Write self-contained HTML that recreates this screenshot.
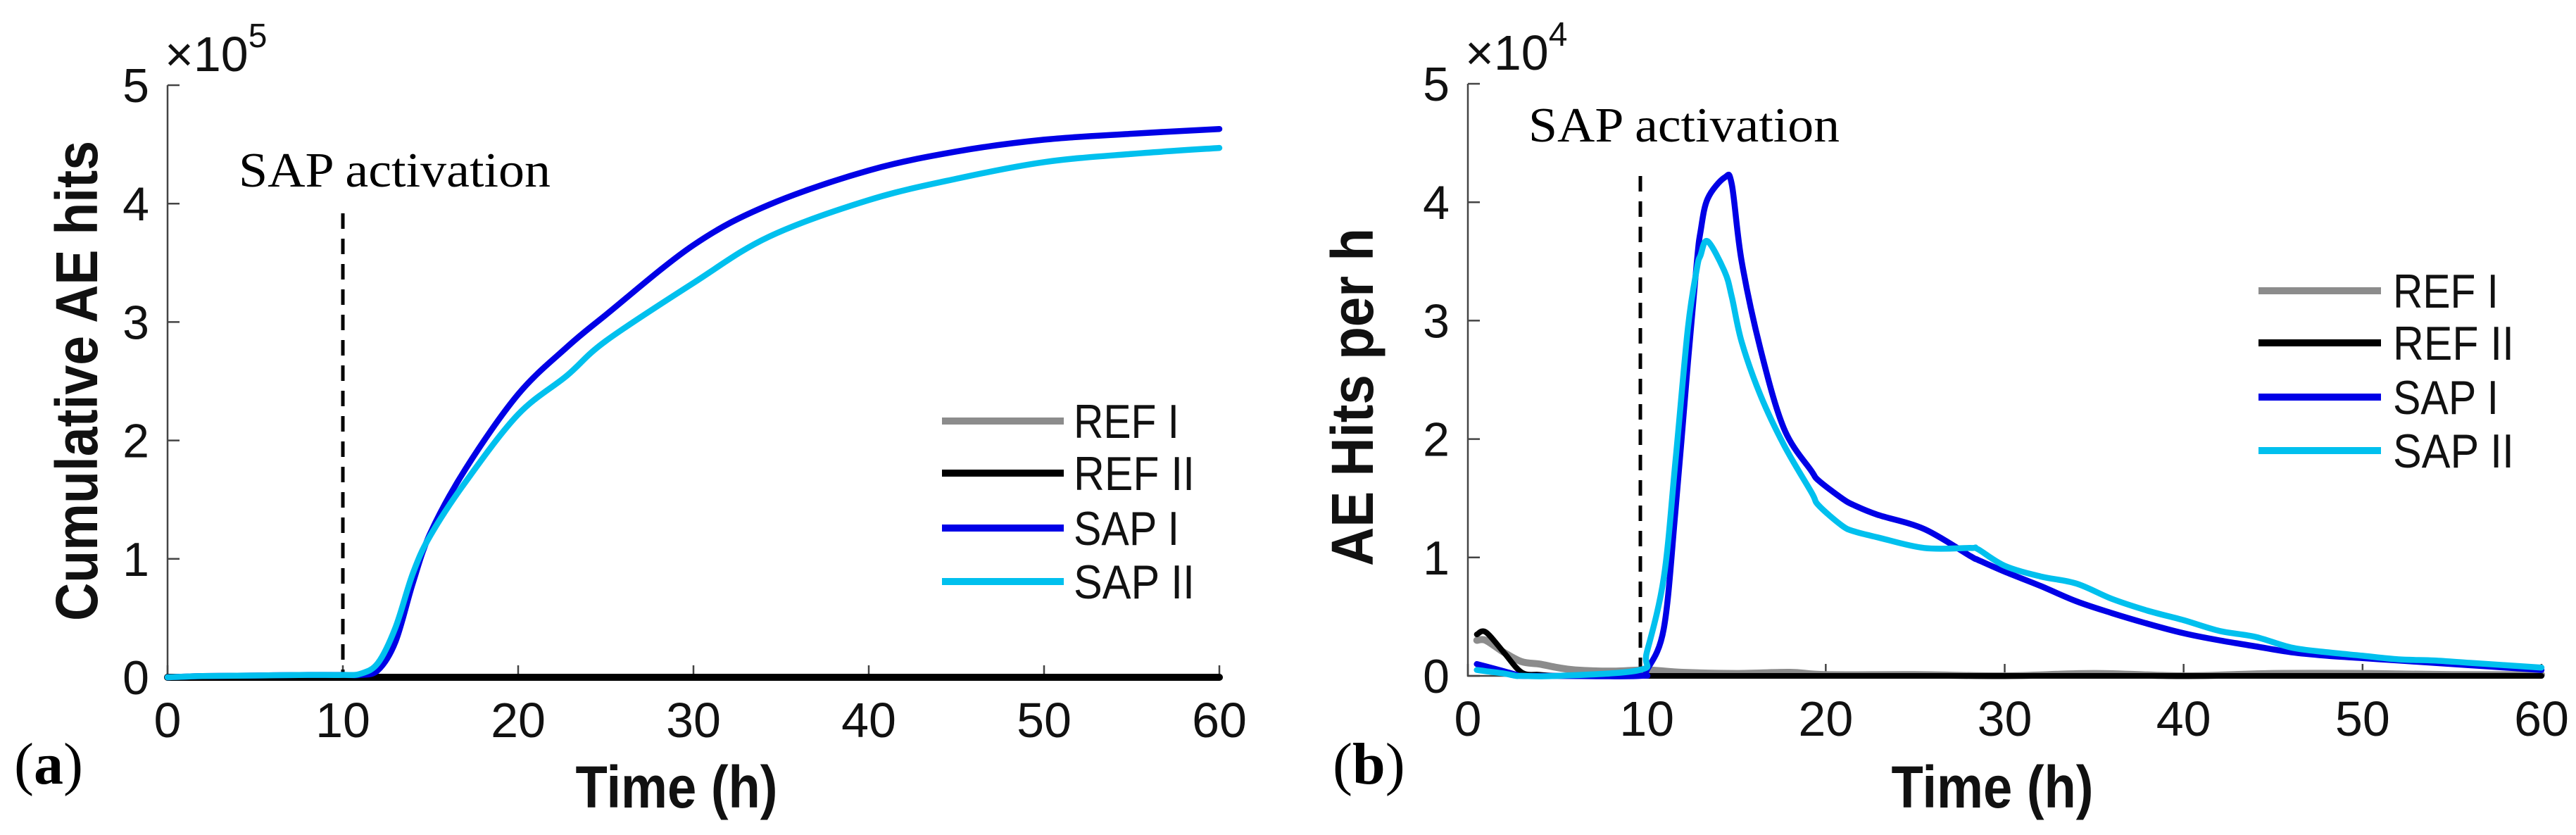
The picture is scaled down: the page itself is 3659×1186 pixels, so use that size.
<!DOCTYPE html>
<html><head><meta charset="utf-8"><style>
html,body{margin:0;padding:0;background:#fff}
svg{display:block}
text{font-family:"Liberation Sans",sans-serif}
.serif{font-family:"Liberation Serif",serif}
</style></head><body>
<svg id="fig" width="3659" height="1186" viewBox="0 0 3659 1186" xmlns="http://www.w3.org/2000/svg"></svg>
<script>
// ---- Panel (a): cumulative AE hits (x1e5) ----
const cumHours = [0,2,5,8,10,11,12,13,14,15,17,20,22.8,25,30,34.3,40,45,50,55,60];
const cumSapI  = [0,0.01,0.015,0.02,0.02,0.02,0.06,0.3,0.8,1.22,1.76,2.39,2.79,3.06,3.65,3.99,4.28,4.44,4.54,4.59,4.63];
const cumSapII = [0,0.01,0.015,0.02,0.02,0.03,0.12,0.42,0.88,1.2,1.65,2.22,2.55,2.84,3.33,3.72,4.03,4.21,4.35,4.42,4.47];
const cumRefHours = [0,60];
const cumRefI  = [0,0];
const cumRefII = [0,0];
// ---- Panel (b): AE hits per h (x1e4) ----
const rateHours = [0.5,1,2,2.7,3,5,9.6,10,10.95,11.6,12.3,12.8,13.0,13.4,14.36,14.75,15.3,16.35,17.66,19.2,19.6,20.9,21.6,22.9,25.5,28.1,28.5,30,32,34,36,38,40,42,44,46,48,50,52,54,56,58,60];
const rateSapI  = [0.1,0.08,0.04,0.01,0,0,0,0.05,0.4,1.39,2.65,3.5,3.75,4.03,4.21,4.15,3.5,2.76,2.09,1.73,1.65,1.5,1.44,1.36,1.24,1.01,0.98,0.88,0.76,0.63,0.53,0.44,0.36,0.30,0.25,0.2,0.17,0.15,0.13,0.11,0.09,0.07,0.05];
const rateSapII = [0.05,0.04,0.02,0,0,0,0.05,0.2,0.83,1.81,2.94,3.44,3.55,3.67,3.41,3.2,2.82,2.37,1.95,1.55,1.44,1.27,1.22,1.17,1.08,1.08,1.07,0.93,0.84,0.78,0.65,0.55,0.47,0.38,0.33,0.24,0.2,0.17,0.14,0.13,0.11,0.09,0.07];
const refHours = [0.5,1,2,3,4,5,6,8,10,12,15,18,20,25,30,35,40,45,50,55,60];
const rateRefI  = [0.3,0.3,0.2,0.12,0.1,0.07,0.05,0.04,0.05,0.03,0.02,0.03,0.01,0.01,0.0,0.02,0.0,0.02,0.02,0.01,0.01];
const rateRefII = [0.35,0.37,0.2,0.03,0.01,0,0,0,0,0,0,0,0,0,0,0,0,0,0,0,0];
const xTicks = [0,10,20,30,40,50,60];
const yTicks = [0,1,2,3,4,5];
const legendLabels = ["REF I","REF II","SAP I","SAP II"];
const NS = "http://www.w3.org/2000/svg";
const svg = document.getElementById('fig');
function el(tag, attrs, parent, txt){
  const e = document.createElementNS(NS, tag);
  for (const k in attrs) e.setAttribute(k, attrs[k]);
  if (txt !== undefined) e.textContent = txt;
  (parent||svg).appendChild(e);
  return e;
}
function smooth(pts){
  if (pts.length < 3) return pts.map((p,i)=>(i?'L':'M')+p[0].toFixed(1)+','+p[1].toFixed(1)).join('');
  let d = 'M'+pts[0][0].toFixed(1)+','+pts[0][1].toFixed(1);
  for (let i=0;i<pts.length-1;i++){
    const p0=pts[i-1]||pts[i], p1=pts[i], p2=pts[i+1], p3=pts[i+2]||p2;
    const t=0.5/3;
    const c1=[p1[0]+(p2[0]-p0[0])*t, p1[1]+(p2[1]-p0[1])*t];
    const c2=[p2[0]-(p3[0]-p1[0])*t, p2[1]-(p3[1]-p1[1])*t];
    d+=`C${c1[0].toFixed(1)},${c1[1].toFixed(1)} ${c2[0].toFixed(1)},${c2[1].toFixed(1)} ${p2[0].toFixed(1)},${p2[1].toFixed(1)}`;
  }
  return d;
}
const colors = {refI:"#8c8c8c", refII:"#000000", sapI:"#0000e6", sapII:"#00c0ee"};
function panel(cfg){
  const g = el('g', {}, svg);
  
  
  const X = h => cfg.x0 + (h/60)*(cfg.x1-cfg.x0);
  const Y = v => cfg.y0 - (v/5)*(cfg.y0-cfg.y5);
  const ax = el('path', {d:`M${cfg.x0},${cfg.y5}V${cfg.y0}H${cfg.x1}`, fill:'none', stroke:'#444', 'stroke-width':2.5}, g);
  
  
  yTicks.forEach(t => {
    el('line', {x1:cfg.x0, x2:cfg.x0+17, y1:Y(t), y2:Y(t), stroke:'#444', 'stroke-width':2.5}, g);
    const tl = el('text', {x:cfg.x0-26, y:Y(t)+24, 'font-size':68, 'text-anchor':'end', fill:'#111'}, g, String(t));
    
    
  });
  xTicks.forEach(t => {
    el('line', {x1:X(t), x2:X(t), y1:cfg.y0, y2:cfg.y0-17, stroke:'#444', 'stroke-width':2.5}, g);
    const tl = el('text', {x:X(t), y:cfg.y0+85, 'font-size':70, 'text-anchor':'middle', fill:'#111'}, g, String(t));
    
    
  });
  const m = el('text', {x:cfg.x0-4, y:cfg.y5-20, 'font-size':70, fill:'#111'}, g);
  
  
  el('tspan', {}, m, '\u00d710');
  el('tspan', {dy:-34, 'font-size':48}, m, cfg.exp);
  const d = el('line', {x1:cfg.dashX, x2:cfg.dashX, y1:cfg.dashTop, y2:cfg.y0, stroke:'#000', 'stroke-width':5, 'stroke-dasharray':'22,14'}, g);
  
  
  const ann = el('text', {x:cfg.annX, y:cfg.annY, 'font-size':70, textLength:cfg.annW, lengthAdjust:'spacingAndGlyphs', class:'serif', fill:'#000'}, g, 'SAP activation');
  
  
  cfg.series.forEach(s => {
    const pts = s.xs.map((h,i)=>[X(h), Y(s.ys[i])]);
    const path = el('path', {d:smooth(pts), fill:'none', stroke:s.color, 'stroke-width':s.w||8.5, 'stroke-linejoin':'round', 'stroke-linecap':'round'}, g);
    
    
  });
  const lg = el('g', {}, g);
  
  
  const lc = [colors.refI, colors.refII, colors.sapI, colors.sapII];
  legendLabels.forEach((lab,i) => {
    const y = cfg.legY[i];
    el('line', {x1:cfg.legX1, x2:cfg.legX2, y1:y, y2:y, stroke:lc[i], 'stroke-width':10}, lg);
    const t = el('text', {x:cfg.legT, y:y+24, 'font-size':68, textLength: i%2? 172:150, lengthAdjust:'spacingAndGlyphs', fill:'#111'}, lg, lab);
    
    
  });
  const yt = el('text', {x:0, y:0, 'font-size':84, 'font-weight':'bold', 'text-anchor':'middle', textLength:cfg.ylW, lengthAdjust:'spacingAndGlyphs', transform:`translate(${cfg.ylX},${cfg.ylY}) rotate(-90)`, fill:'#111'}, g, cfg.ylabel);
  
  
  const xt = el('text', {x:cfg.xlX, y:1147, 'font-size':84, 'font-weight':'bold', 'text-anchor':'middle', textLength:287, lengthAdjust:'spacingAndGlyphs', fill:'#111'}, g, 'Time (h)');
  
  
  const pl = el('text', {x:cfg.plX, y:1113, 'font-size':84, class:'serif', fill:'#000'}, g);
  
  
  el('tspan', {}, pl, '(');
  el('tspan', {'font-weight':'bold'}, pl, cfg.letter);
  el('tspan', {}, pl, ')');
}
panel({name:'panel-a-cumulative', x0:238, x1:1732, y0:962, y5:121, exp:'5',
  dashX:487, dashTop:303, annX:339, annY:265, annW:443,
  legX1:1338, legX2:1511, legT:1525, legY:[598,672,750,826],
  ylabel:'Cumulative AE hits', ylX:138, ylY:541, ylW:682, xlX:961, plX:20, letter:'a',
  series:[
    {name:'ref-i-line', xs:cumRefHours, ys:cumRefI, color:colors.refI, w:10},
    {name:'ref-ii-line', xs:cumRefHours, ys:cumRefII, color:colors.refII, w:10},
    {name:'sap-i-line', xs:cumHours, ys:cumSapI, color:colors.sapI},
    {name:'sap-ii-line', xs:cumHours, ys:cumSapII, color:colors.sapII}
  ]});
panel({name:'panel-b-rate', x0:2085, x1:3610, y0:960, y5:119, exp:'4',
  dashX:2330, dashTop:250, annX:2171, annY:201, annW:442,
  legX1:3208, legX2:3382, legT:3399, legY:[413,487,564,640],
  ylabel:'AE Hits per h', ylX:1950, ylY:564, ylW:480, xlX:2830, plX:1893, letter:'b',
  series:[
    {name:'ref-i-line', xs:refHours, ys:rateRefI, color:colors.refI, w:10},
    {name:'ref-ii-line', xs:refHours, ys:rateRefII, color:colors.refII, w:8},
    {name:'sap-i-line', xs:rateHours, ys:rateSapI, color:colors.sapI},
    {name:'sap-ii-line', xs:rateHours, ys:rateSapII, color:colors.sapII}
  ]});
</script>
</body></html>
